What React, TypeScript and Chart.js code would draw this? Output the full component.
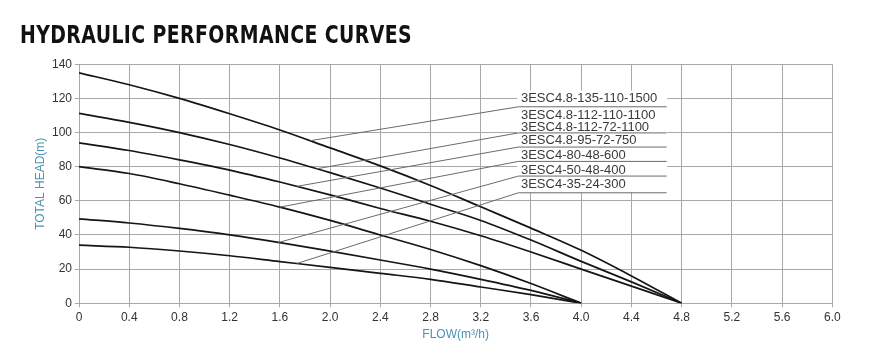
import React, { useEffect, useRef } from "react";
import { Chart, registerables } from "chart.js";

Chart.register(...registerables);

// ---- data ----
const flowLong = [0, 0.4, 0.8, 1.2, 1.6, 2.0, 2.4, 2.8, 3.2, 3.6, 4.0, 4.4, 4.8];
const flowShort = [0, 0.4, 0.8, 1.2, 1.6, 2.0, 2.4, 2.8, 3.2, 3.6, 4.0];

const head135 = [135, 128, 120, 111, 101.5, 91, 80.5, 69, 56.5, 44, 31, 16, 0];
const head112 = [111.2, 106, 100, 93, 85.1, 76.5, 67.5, 58, 48.5, 37, 24.5, 12.5, 0];
const head95 = [94, 89.5, 84, 78, 71, 63.5, 55.5, 48, 39.5, 30, 20, 10, 0];
const head80 = [80, 76, 70, 63.3, 56.3, 48.5, 40, 31.5, 22, 11.5, 0];
const head50 = [49.4, 47, 43.8, 40, 35.5, 30.5, 25.3, 20, 14, 7.5, 0];
const head35 = [34, 32.8, 30.6, 27.8, 24.4, 21, 17.5, 14, 9.5, 5, 0];

const modelNames = [
  "3ESC4.8-135-110-1500",
  "3ESC4.8-112-110-1100",
  "3ESC4.8-112-72-1100",
  "3ESC4.8-95-72-750",
  "3ESC4-80-48-600",
  "3ESC4-50-48-400",
  "3ESC4-35-24-300",
];
// head (m) at which each model name is written
const nameHeads = [120.2, 109.8, 103.3, 95.5, 86.6, 77.8, 69.4];
// leader lines: flow where they leave the curve, head of the underline they reach
const leaderStartFlow = [1.84, 1.894, 1.735, 1.6, 1.59, 1.735];
const leaderEndHead = [115.1, 99.8, 91.5, 83.1, 74.5, 64.7];
const underlineFlow = [3.5, 4.68];
const nameFlow = 3.52;
const nameBoxFlow = [3.49, 4.685];
const nameBoxHead = [64.9, 124.6];

const xMax = 6.0;
const xStep = 0.4;
const yMax = 140;
const yStep = 20;

const curves = [
  { xs: flowLong, ys: head135 },
  { xs: flowLong, ys: head112 },
  { xs: flowLong, ys: head95 },
  { xs: flowShort, ys: head80 },
  { xs: flowShort, ys: head50 },
  { xs: flowShort, ys: head35 },
];

function interp(xs: number[], ys: number[], x: number) {
  for (let i = 0; i < xs.length - 1; i++) {
    if (x >= xs[i] && x <= xs[i + 1]) {
      const t = (x - xs[i]) / (xs[i + 1] - xs[i]);
      return ys[i] + t * (ys[i + 1] - ys[i]);
    }
  }
  return ys[ys.length - 1];
}

const namePlugin = {
  id: "nameBox",
  beforeDatasetsDraw(chart: any) {
    const { ctx, scales } = chart;
    const xs = scales.x;
    const ys = scales.y;
    const x0 = xs.getPixelForValue(nameBoxFlow[0]);
    const x1 = xs.getPixelForValue(nameBoxFlow[1]);
    const y0 = ys.getPixelForValue(nameBoxHead[1]);
    const y1 = ys.getPixelForValue(nameBoxHead[0]);
    ctx.save();
    ctx.fillStyle = "#ffffff";
    ctx.fillRect(x0, y0, x1 - x0, y1 - y0);
    ctx.fillStyle = "#3a3a3a";
    ctx.font = "13px 'Liberation Sans', Arial, sans-serif";
    ctx.textBaseline = "middle";
    ctx.textAlign = "left";
    modelNames.forEach((n, i) => {
      ctx.fillText(n, xs.getPixelForValue(nameFlow), ys.getPixelForValue(nameHeads[i]));
    });
    ctx.restore();
  },
};

export default function App() {
  const canvasRef = useRef<HTMLCanvasElement>(null);
  const titleRef = useRef<HTMLSpanElement>(null);

  useEffect(() => {
    document.body.style.margin = "0";
    const span = titleRef.current;
    if (span) {
      const w = span.getBoundingClientRect().width;
      if (w > 0) span.style.transform = `scaleX(${392 / w})`;
    }

    const curveSets = curves.map((c, i) => ({
      label: "curve" + i,
      data: c.xs.map((x, k) => ({ x, y: c.ys[k] })),
      borderColor: "#151515",
      borderWidth: 1.7,
      pointRadius: 0,
      cubicInterpolationMode: "monotone" as const,
      fill: false,
    }));
    const leaderSets = curves.map((c, i) => {
      const sx = leaderStartFlow[i];
      const sy = interp(c.xs, c.ys, sx);
      return {
        label: "leader" + i,
        data: [
          { x: sx, y: sy },
          { x: underlineFlow[0], y: leaderEndHead[i] },
          { x: underlineFlow[1], y: leaderEndHead[i] },
        ],
        borderColor: "#6a6a6a",
        borderWidth: 1,
        pointRadius: 0,
        tension: 0,
        fill: false,
      };
    });

    const gridColor = "#a8a8a8";
    const tickFont = { family: "'Liberation Sans', Arial, sans-serif", size: 12 };
    const titleFont = { family: "'Liberation Sans', Arial, sans-serif", size: 12 };

    const chart = new Chart(canvasRef.current as HTMLCanvasElement, {
      type: "line",
      data: { datasets: [...leaderSets, ...curveSets] as any },
      plugins: [namePlugin],
      options: {
        animation: false,
        responsive: false,
        devicePixelRatio: 1,
        layout: { padding: { left: 20, right: 37.7, top: 64.3, bottom: 8 } },
        plugins: { legend: { display: false }, tooltip: { enabled: false }, title: { display: false } },
        scales: {
          x: {
            type: "linear",
            min: 0,
            max: xMax,
            grid: { color: gridColor, tickLength: 4, tickColor: gridColor, lineWidth: 1 },
            border: { color: gridColor },
            ticks: {
              stepSize: xStep,
              color: "#333",
              font: tickFont,
              padding: 3,
              maxRotation: 0,
              autoSkip: false,
              callback: (v: any) => (Number(v) === 0 ? "0" : Number(v).toFixed(1)),
            },
            title: {
              display: true,
              text: "FLOW(m³/h)",
              color: "#4b93b4",
              font: titleFont,
              padding: { top: 0, bottom: 0 },
            },
          },
          y: {
            type: "linear",
            min: 0,
            max: yMax,
            grid: { color: gridColor, tickLength: 4, tickColor: gridColor, lineWidth: 1 },
            border: { color: gridColor },
            ticks: { stepSize: yStep, color: "#333", font: tickFont, padding: 3 },
            title: {
              display: true,
              text: "TOTAL HEAD(m)",
              color: "#4b93b4",
              font: titleFont,
              padding: { top: 13.8, bottom: 0.8 },
            },
          },
        },
      },
    });
    return () => chart.destroy();
  }, []);

  return (
    <div style={{ position: "relative", width: 870, height: 350, background: "#fff" }}>
      <canvas
        ref={canvasRef}
        width={870}
        height={350}
        style={{ position: "absolute", left: 0, top: 0, width: 870, height: 350 }}
      />
      <span
        ref={titleRef}
        style={{
          position: "absolute",
          left: 20,
          top: 22,
          fontFamily: "'DejaVu Sans Condensed', 'DejaVu Sans', sans-serif",
          fontStretch: "condensed",
          fontWeight: "bold",
          fontSize: 25,
          lineHeight: "25px",
          whiteSpace: "nowrap",
          transformOrigin: "0 0",
          color: "#111",
          letterSpacing: "0.5px",
        }}
      >
        HYDRAULIC PERFORMANCE CURVES
      </span>
    </div>
  );
}
